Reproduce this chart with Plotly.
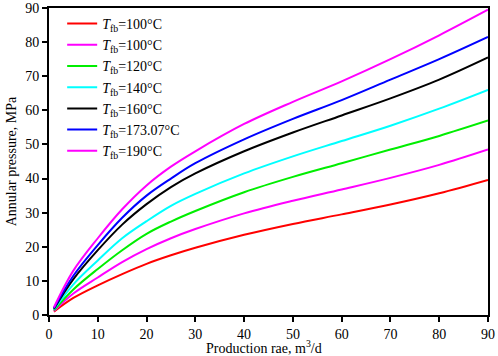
import plotly.graph_objects as go

rate = [1, 5, 10, 15, 20, 25, 30, 40, 50, 60, 70, 80, 90]

labels = ["100°C", "100°C", "120°C", "140°C", "160°C", "173.07°C", "190°C"]
colors = ["#FF0000", "#FF00FF", "#00EE00", "#00FFFF", "#000000", "#0000FF", "#FF00FF"]

p_red = [1.0, 5.0, 8.7, 12.0, 15.0, 17.5, 19.7, 23.5, 26.7, 29.5, 32.4, 35.7, 39.6]
p_mag1 = [1.2, 6.3, 11.0, 15.5, 19.3, 22.5, 25.2, 29.8, 33.5, 36.8, 40.2, 44.0, 48.5]
p_green = [1.4, 7.5, 13.5, 19.0, 23.8, 27.4, 30.5, 36.0, 40.5, 44.5, 48.5, 52.5, 57.0]
p_cyan = [1.6, 9.0, 16.0, 22.5, 27.5, 32.0, 35.5, 41.5, 46.5, 51.0, 55.5, 60.5, 66.0]
p_black = [1.8, 10.5, 19.0, 26.5, 32.5, 37.5, 41.5, 48.0, 53.5, 58.5, 63.5, 69.0, 75.5]
p_blue = [2.0, 11.5, 20.5, 28.5, 35.0, 40.0, 44.5, 51.5, 57.5, 63.0, 69.0, 75.0, 81.5]
p_mag2 = [2.2, 13.0, 22.5, 31.0, 38.0, 43.5, 48.0, 56.0, 62.5, 68.5, 75.0, 82.0, 89.5]

series = [p_red, p_mag1, p_green, p_cyan, p_black, p_blue, p_mag2]

fig = go.Figure()
for lab, col, ys in zip(labels, colors, series):
    fig.add_trace(go.Scatter(
        x=rate, y=ys, mode="lines",
        line=dict(color=col, width=2, shape="spline", smoothing=1.0),
        name="<i>T</i><sub>fb</sub>=" + lab,
    ))

font = "Liberation Serif, Times New Roman, serif"
fig.update_layout(
    width=498, height=356,
    margin=dict(l=49, r=10, t=8, b=41, autoexpand=False),
    paper_bgcolor="white", plot_bgcolor="white",
    font=dict(family=font, size=14, color="black"),
    showlegend=True,
    legend=dict(x=0.03, y=1.0, xanchor="left", yanchor="top", bgcolor="rgba(0,0,0,0)",
                itemwidth=30, font=dict(family=font, size=14), tracegroupgap=0),
    xaxis=dict(range=[0, 90], dtick=10, tick0=0, showgrid=False, zeroline=False,
               showline=True, linecolor="black", linewidth=2, mirror=True, automargin=False,
               ticks="outside", ticklen=5, tickwidth=2, tickcolor="black"),
    yaxis=dict(range=[0, 90], dtick=10, tick0=0, showgrid=False, zeroline=False,
               showline=True, linecolor="black", linewidth=2, mirror=True, automargin=False,
               ticks="outside", ticklen=5, tickwidth=2, tickcolor="black",
               title=dict(text="Annular pressure, MPa", standoff=5,
                          font=dict(family=font, size=14))),
    annotations=[dict(text="Production rae, m<sup>3</sup>/d", xref="paper", yref="paper",
                      x=0.49, y=-0.068, xanchor="center", yanchor="top", showarrow=False,
                      font=dict(family=font, size=14))],
)

fig.write_html("out.html", config={"displayModeBar": False},
               post_script="document.body.style.margin='0px';")
